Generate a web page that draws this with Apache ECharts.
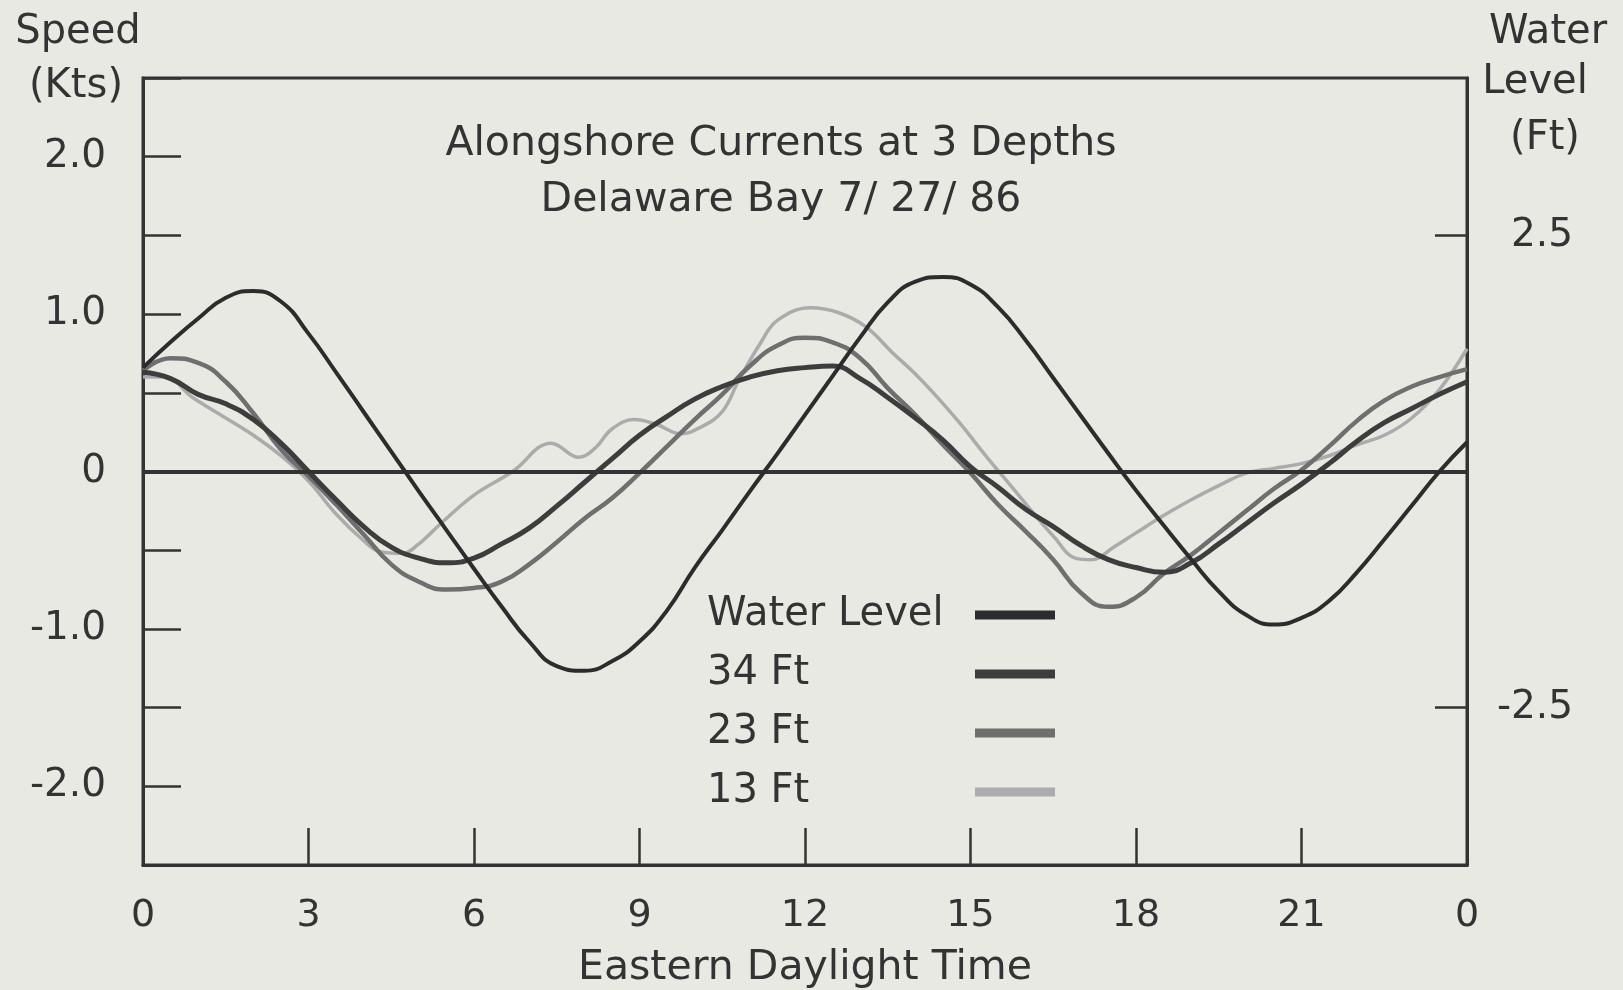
<!DOCTYPE html>
<html>
<head>
<meta charset="utf-8">
<script src="https://cdn.jsdelivr.net/npm/echarts@6/dist/echarts.min.js"></script>
<style>
html,body{margin:0;padding:0;background:#e9e9e4;}
#chart{width:1623px;height:990px;}
</style>
</head>
<body>
<div id="chart"></div>
<script>
// ---- data ----
const hours = [0,0.5,1,1.5,2,2.5,3,3.5,4,4.5,5,5.5,6,6.5,7,7.5,8,8.5,9,9.5,10,10.5,11,11.5,12,12.5,13,13.5,14,14.5,15,15.5,16,16.5,17,17.5,18,18.5,19,19.5,20,20.5,21,21.5,22,22.5,23,23.5,24];

// Water level (Ft), right axis
const waterLevel = [1.10,1.37,1.62,1.84,1.91,1.80,1.46,1.05,0.63,0.21,-0.21,-0.62,-1.03,-1.43,-1.80,-2.06,-2.11,-2.01,-1.80,-1.47,-1.02,-0.62,-0.21,0.19,0.60,1.01,1.42,1.79,2.01,2.06,1.98,1.74,1.39,0.99,0.59,0.19,-0.20,-0.57,-0.93,-1.27,-1.52,-1.62,-1.55,-1.37,-1.07,-0.72,-0.36,0.00,0.31];

// 34 Ft current (Kts)
const ft34 = [0.63,0.59,0.49,0.43,0.33,0.18,0.00,-0.18,-0.35,-0.48,-0.55,-0.58,-0.55,-0.46,-0.36,-0.22,-0.07,0.08,0.23,0.35,0.46,0.54,0.60,0.64,0.66,0.67,0.59,0.47,0.34,0.20,0.03,-0.10,-0.24,-0.35,-0.47,-0.56,-0.61,-0.64,-0.58,-0.46,-0.33,-0.20,-0.08,0.05,0.19,0.31,0.40,0.49,0.57];

// 23 Ft current (Kts)
const ft23 = [0.64,0.72,0.69,0.57,0.37,0.14,-0.03,-0.21,-0.40,-0.59,-0.70,-0.75,-0.74,-0.70,-0.59,-0.45,-0.30,-0.17,-0.01,0.16,0.33,0.49,0.67,0.80,0.85,0.82,0.72,0.53,0.36,0.17,-0.01,-0.21,-0.38,-0.56,-0.77,-0.86,-0.80,-0.65,-0.53,-0.39,-0.25,-0.11,0.01,0.16,0.32,0.45,0.54,0.60,0.65];

// 13 Ft current (Kts), own time samples to keep the small wiggles
const hours13 = [0,0.4,0.9,1.5,2.0,2.5,3.0,3.5,4.0,4.3,4.7,5.0,5.4,6.0,6.7,7.4,7.9,8.2,8.5,8.9,9.3,9.75,10.1,10.5,10.8,11.2,11.5,12.1,12.6,13.1,13.6,14.0,14.3,14.8,15.3,15.8,16.2,16.5,16.9,17.2,17.6,18.0,18.5,19.0,19.5,20.0,20.5,21.0,21.5,22.0,22.5,23.0,23.5,24];
const ft13 = [0.60,0.60,0.47,0.34,0.23,0.10,-0.06,-0.27,-0.44,-0.51,-0.52,-0.46,-0.33,-0.15,0.00,0.18,0.09,0.15,0.27,0.33,0.30,0.24,0.28,0.38,0.58,0.82,0.96,1.04,1.01,0.92,0.75,0.62,0.51,0.31,0.09,-0.12,-0.29,-0.41,-0.55,-0.56,-0.48,-0.39,-0.28,-0.18,-0.09,-0.01,0.02,0.05,0.10,0.17,0.23,0.34,0.52,0.78];

// tick labels
const hourTicks = [0,3,6,9,12,15,18,21,24];
const hourTickLabels = ['0','3','6','9','12','15','18','21','0'];
const speedTicks = [-2,-1,0,1,2];
const speedTickLabels = ['-2.0','-1.0','0','1.0','2.0'];
const levelTicks = [-2.5,2.5];
const levelTickLabels = ['-2.5','2.5'];
const seriesNames = ['Water Level','34 Ft','23 Ft','13 Ft'];

// ---- chart ----
const ink = '#333333';
const font = 'DejaVu Sans';
const colors = {'Water Level':'#2c2c2c','34 Ft':'#3d3d3d','23 Ft':'#6f6f6f','13 Ft':'#ababab'};

function pairs(xs, ys){ return xs.map((x,i)=>[x, ys[i]]); }

const chart = echarts.init(document.getElementById('chart'), null, {renderer:'canvas'});
chart.setOption({
  backgroundColor:'#e9e9e4',
  animation:false,
  textStyle:{fontFamily:font, color:ink},
  title:{
    text:'Alongshore Currents at 3 Depths\nDelaware Bay 7/ 27/ 86',
    left:776, top:111, textAlign:'center',
    textStyle:{fontFamily:font, fontSize:41, fontWeight:'normal', color:ink, lineHeight:56}
  },
  grid:{left:143, right:156, top:78, bottom:125, show:true, borderColor:ink, borderWidth:3, backgroundColor:'transparent', outerBoundsMode:'none'},
  legend:{
    orient:'vertical', left:702, top:586, itemGap:11, align:'right',
    itemWidth:80, itemHeight:9,
    data: seriesNames.map(n=>({name:n, icon:'rect', itemStyle:{color:colors[n]}})),
    formatter: n => '{a|' + n + '}',
    textStyle:{fontFamily:font, fontSize:40, color:ink, lineHeight:48,
      rich:{a:{width:263, align:'left', fontFamily:font, fontSize:40, color:ink, lineHeight:48}}},
    selectedMode:false
  },
  xAxis:{
    type:'value', min:0, max:24, interval:3,
    name:'Eastern Daylight Time', nameLocation:'middle', nameGap:83,
    nameTextStyle:{fontFamily:font, fontSize:41, color:ink},
    axisLine:{show:true, onZero:false, lineStyle:{color:ink, width:3}},
    axisTick:{show:true, inside:true, length:37, lineStyle:{color:ink, width:2.5}},
    axisLabel:{margin:32, fontFamily:font, fontSize:38, color:ink,
      customValues: hourTicks,
      formatter: v => hourTickLabels[hourTicks.indexOf(v)] ?? ''},
    splitLine:{show:false}
  },
  yAxis:[{
    type:'value', min:-2.5, max:2.5, interval:0.5, position:'left',
    axisLine:{show:true, onZero:false, lineStyle:{color:ink, width:3}},
    axisTick:{show:true, inside:true, length:38, lineStyle:{color:ink, width:2.5}},
    axisLabel:{margin:37, fontFamily:font, fontSize:39, color:ink,
      customValues: speedTicks,
      formatter: v => speedTickLabels[speedTicks.indexOf(v)] ?? ''},
    splitLine:{show:false}
  },{
    type:'value', min:-25/6, max:25/6, position:'right',
    axisLine:{show:true, onZero:false, lineStyle:{color:ink, width:3}},
    axisTick:{show:true, inside:true, length:32, customValues: levelTicks, lineStyle:{color:ink, width:2.5}},
    axisLabel:{margin:106, align:'right', fontFamily:font, fontSize:39, color:ink, padding:[6,0,0,0],
      customValues: levelTicks,
      formatter: v => levelTickLabels[levelTicks.indexOf(v)] ?? ''},
    splitLine:{show:false}
  }],
  graphic:[
    {type:'text', style:{text:'Speed', x:78, y:33, fontFamily:font, fontSize:40, fill:ink, align:'center', verticalAlign:'middle'}},
    {type:'text', style:{text:'(Kts)', x:76, y:87, fontFamily:font, fontSize:40, fill:ink, align:'center', verticalAlign:'middle'}},
    {type:'text', style:{text:'Water', x:1548, y:33, fontFamily:font, fontSize:40, fill:ink, align:'center', verticalAlign:'middle'}},
    {type:'text', style:{text:'Level', x:1535, y:83, fontFamily:font, fontSize:40, fill:ink, align:'center', verticalAlign:'middle'}},
    {type:'text', style:{text:'(Ft)', x:1545, y:139, fontFamily:font, fontSize:40, fill:ink, align:'center', verticalAlign:'middle'}}
  ],
  series:[
    {name:'Water Level', type:'line', yAxisIndex:1, data:pairs(hours, waterLevel), smooth:0.5, symbol:'none',
      lineStyle:{color:colors['Water Level'], width:4}, z:5,
      markLine:{silent:true, symbol:'none', label:{show:false},
        lineStyle:{color:ink, width:4, type:'solid'}, data:[{yAxis:0}]}},
    {name:'34 Ft', type:'line', data:pairs(hours, ft34), smooth:0.5, symbol:'none',
      lineStyle:{color:colors['34 Ft'], width:5}, z:4},
    {name:'23 Ft', type:'line', data:pairs(hours, ft23), smooth:0.5, symbol:'none',
      lineStyle:{color:colors['23 Ft'], width:4.5}, z:3},
    {name:'13 Ft', type:'line', data:pairs(hours13, ft13), smooth:0.4, symbol:'none',
      lineStyle:{color:colors['13 Ft'], width:3.5}, z:2}
  ]
});
</script>
</body>
</html>
